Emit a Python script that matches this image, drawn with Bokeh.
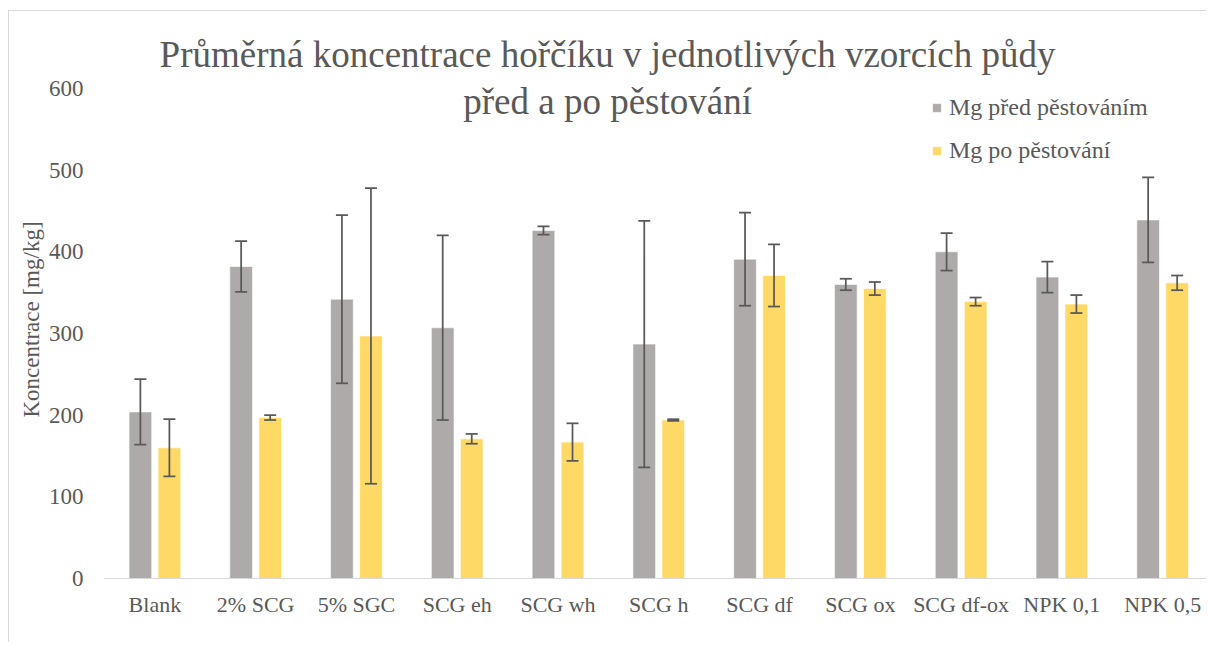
import math
from bokeh.plotting import figure
from bokeh.models import (ColumnDataSource, Range1d, FixedTicker, Whisker, TeeHead,
                          Label, Legend, LegendItem, Title)
from bokeh.embed import file_html
from bokeh.resources import INLINE

categories = ["Blank", "2% SCG", "5% SGC", "SCG eh", "SCG wh", "SCG h",
              "SCG df", "SCG ox", "SCG df-ox", "NPK 0,1", "NPK 0,5"]
mg_pred = [204, 382, 342, 307, 426, 287, 391, 360, 400, 369, 439]
mg_pred_err = [40, 31, 103, 113, 5, 151, 57, 7, 23, 19, 52]
mg_po = [160, 197, 297, 171, 167, 194, 371, 355, 339, 336, 362]
mg_po_err = [35, 3, 181, 6, 23, 1, 38, 8, 5, 11, 9]
y_ticks = [0, 100, 200, 300, 400, 500, 600]

series_names = ["Mg před pěstováním", "Mg po pěstování"]
title_lines = ["Průměrná koncentrace hořčíku v jednotlivých vzorcích půdy",
               "před a po pěstování"]
y_label = "Koncentrace [mg/kg]"

FONT = "Liberation Serif"
TXT = "#595959"
GRAY = "#AEAAAA"
YELLOW = "#FFD966"

idx = list(range(len(categories)))
off = 0.144
src_a = ColumnDataSource(dict(
    x=[i - off for i in idx], top=mg_pred,
    upper=[m + e for m, e in zip(mg_pred, mg_pred_err)],
    lower=[m - e for m, e in zip(mg_pred, mg_pred_err)]))
src_b = ColumnDataSource(dict(
    x=[i + off for i in idx], top=mg_po,
    upper=[m + e for m, e in zip(mg_po, mg_po_err)],
    lower=[m - e for m, e in zip(mg_po, mg_po_err)]))

p = figure(width=1198, height=632, output_backend="svg", toolbar_location=None,
           x_range=Range1d(-0.5, 10.445), y_range=Range1d(0, 683.2),
           min_border_left=95, min_border_right=0, min_border_top=9,
           min_border_bottom=65)
p.styles = {"border-left": "1px solid #d9d9d9", "border-top": "1px solid #d9d9d9",
            "border-right": "none", "border-bottom": "none",
            "margin-left": "8px", "margin-top": "10px"}
p.outline_line_color = None
p.grid.visible = False
p.background_fill_color = "white"
p.border_fill_color = "white"

ra = p.vbar(x="x", top="top", width=0.225, source=src_a, fill_color=GRAY,
            line_color="white", line_alpha=0.6, line_width=1)
rb = p.vbar(x="x", top="top", width=0.225, source=src_b, fill_color=YELLOW,
            line_color="white", line_alpha=0.6, line_width=1)

for src in (src_a, src_b):
    w = Whisker(base="x", upper="upper", lower="lower", source=src,
                line_color="#595959", line_width=1.75, level="annotation",
                upper_head=TeeHead(size=12, line_color="#595959", line_width=1.75),
                lower_head=TeeHead(size=12, line_color="#595959", line_width=1.75))
    p.add_layout(w)

# x axis
xa = p.xaxis[0]
xa.ticker = FixedTicker(ticks=idx)
xa.major_label_overrides = {i: c for i, c in zip(idx, categories)}
xa.axis_line_color = "#d9d9d9"
xa.axis_line_width = 1
xa.major_tick_line_color = None
xa.minor_tick_line_color = None
xa.major_label_standoff = 7
xa.major_label_text_font = FONT
xa.major_label_text_font_size = "22px"
xa.major_label_text_color = TXT

# y axis
ya = p.yaxis[0]
ya.ticker = FixedTicker(ticks=y_ticks)
ya.axis_line_color = None
ya.major_tick_line_color = None
ya.minor_tick_line_color = None
ya.major_label_standoff = 15
ya.major_label_text_font = FONT
ya.major_label_text_font_size = "23px"
ya.major_label_text_color = TXT

p.add_layout(Title(text=y_label, align="left", offset=161, standoff=4,
                   text_font=FONT, text_font_size="23px", text_color=TXT,
                   text_font_style="normal"), "left")

p.add_layout(Label(x=4.492, y=641, text=title_lines[0], text_align="center",
                   text_baseline="alphabetic", text_font=FONT,
                   text_font_size="37px", text_color=TXT))
p.add_layout(Label(x=4.492, y=584, text=title_lines[1], text_align="center",
                   text_baseline="alphabetic", text_font=FONT,
                   text_font_size="37px", text_color=TXT))

legend = Legend(items=[LegendItem(label=series_names[0], renderers=[ra]),
                       LegendItem(label=series_names[1], renderers=[rb])],
                location=(827, 414), orientation="vertical",
                label_text_font=FONT, label_text_font_size="24px",
                label_text_color=TXT, glyph_width=11, glyph_height=11,
                label_height=22, spacing=16, padding=0, margin=0,
                label_standoff=7, border_line_color=None,
                background_fill_alpha=0)
p.add_layout(legend)

open("out.html", "w").write(file_html(p, INLINE))
